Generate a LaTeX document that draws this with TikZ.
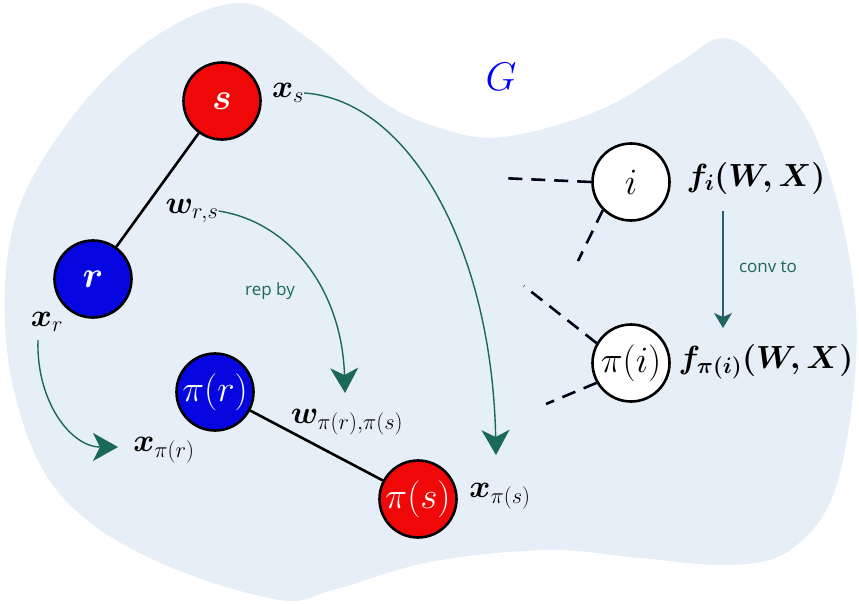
\RequirePackage{fix-cm}
\documentclass[tikz,border=0pt]{standalone}
\usepackage{amsmath,bm}
\usepackage{fontspec}
\newfontfamily\annfont{Open Sans}
\usetikzlibrary{arrows.meta}
\definecolor{blob}{RGB}{230,239,247}
\definecolor{tealg}{RGB}{28,104,88}
\definecolor{tealb}{RGB}{40,95,110}
\definecolor{nred}{RGB}{240,8,8}
\definecolor{nblue}{RGB}{6,6,225}
\tikzset{
  vert/.style={circle,draw=black,line width=2.6pt,minimum size=77pt,inner sep=0pt,
    font=\fontsize{37}{44}\selectfont},
  lab/.style={inner sep=0pt,font=\fontsize{32}{38}\selectfont},
  flab/.style={inner sep=0pt,font=\fontsize{32}{38}\selectfont\boldmath},
  ann/.style={inner sep=0pt,text=tealg,font=\fontsize{17}{20}\selectfont\annfont},
  edgeln/.style={line width=2.6pt,draw=black},
  dashln/.style={line width=2.6pt,draw=black!90!blue,dash pattern=on 14pt off 9pt},
  bigarr/.style={draw=tealg,line width=1.4pt,-{Stealth[length=25pt,width=28pt,inset=7pt]}},
  smallarr/.style={draw=tealb,line width=1.2pt,-{Stealth[length=15pt,width=18pt,inset=4pt,fill=tealg]}}
}
\begin{document}
\begin{tikzpicture}[x=1pt,y=-1pt]
\useasboundingbox (0,0) rectangle (859,604);
% background blob
\fill[blob] plot[smooth cycle,tension=0.6] coordinates {
 (240,3) (310,40) (380,100) (440,128) (503,137) (600,110) (680,62) (723,38)
 (765,65) (815,135) (848,250) (856,360) (835,490) (790,550) (730,565)
 (640,558) (547,550) (430,562) (333,590) (280,600) (170,567) (83,517)
 (33,450) (6,340) (15,220) (70,120) (150,40)};

% vertices
\node[vert,fill=nred,text=white] (s) at (222,101) {$\bm{s}$};
\node[vert,fill=nblue,text=white] (r) at (93,279) {$\bm{r}$};
\node[vert,fill=nblue,text=white] (pr) at (215,392) {$\pi(r)$};
\node[vert,fill=nred,text=white] (ps) at (418,499) {$\pi(s)$};
\node[vert,fill=white] (i) at (631,182) {$i$};
\node[vert,fill=white] (pi) at (631,363) {$\pi(i)$};

\draw[edgeln] (s) -- (r);
\draw[edgeln] (pr) -- (ps);

% labels
\node[lab] (xs) at (288,93) {$\bm{x}_s$};
\node[lab] (wrs) at (192,211) {$\bm{w}_{r,s}$};
\node[lab] (xr) at (47,322) {$\bm{x}_r$};
\node[lab] (xpr) at (164,450) {$\bm{x}_{\pi(r)}$};
\node[lab] (wprs) at (347,422) {$\bm{w}_{\pi(r),\pi(s)}$};
\node[lab] (xps) at (500,496) {$\bm{x}_{\pi(s)}$};
\node[flab] (fi) at (756,178) {$f_i(W,X)$};
\node[flab] (fpi) at (766,362) {$f_{\pi(i)}(W,X)$};
\node[inner sep=0pt,text=blue,font=\fontsize{40}{46}\selectfont] (G) at (501,77) {$G$};
\node[ann] (rep) at (270,291) {rep by};
\node[ann] (conv) at (768,267) {conv to};

% dangling dashed edges
\coordinate (d1) at (500,178);
\coordinate (d2) at (578,261);
\coordinate (d3) at (524,286);
\coordinate (d4) at (546,404);
\draw[dashln] (i.west) -- (d1);
\draw[dashln] (i.225) -- (d2);
\draw[dashln] (pi.150) -- (d3);
\draw[dashln] (pi.210) -- (d4);

% arrows
\coordinate (t1) at (496,455);
\coordinate (t2) at (345,393);
\coordinate (t3) at (118,447);
\coordinate (a3) at (38,340);
\coordinate (t4) at (723,328);
\coordinate (a4) at (723,211);
\draw[bigarr] (xs.east) .. controls (410,100) and (492,250) .. (t1);
\draw[bigarr] (wrs.east) .. controls (290,222) and (342,290) .. (t2);
\draw[bigarr] (a3) .. controls (36,400) and (70,447) .. (t3);
\draw[smallarr] (a4) -- (t4);
\end{tikzpicture}
\end{document}
